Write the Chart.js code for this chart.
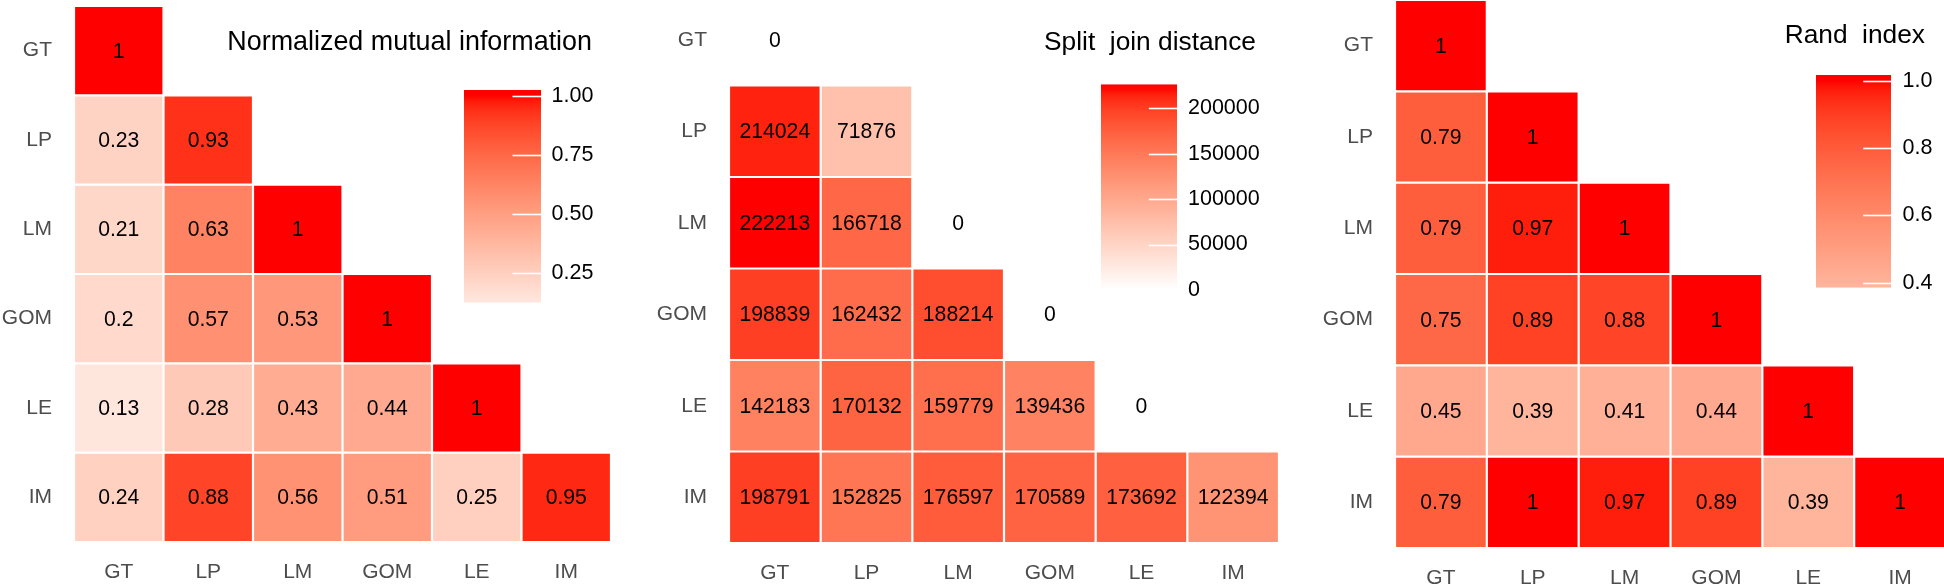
<!DOCTYPE html>
<html>
<head>
<meta charset="utf-8">
<script src="https://cdn.jsdelivr.net/npm/chart.js@4/dist/chart.umd.min.js"></script>
<style>
  html, body { margin: 0; padding: 0; background: #ffffff; }
  body { position: relative; width: 1944px; height: 587px; overflow: hidden; }
  canvas { position: absolute; }
  .title { position: absolute; font-family: 'Liberation Sans', Arial, sans-serif; font-size: 26.3px;
           line-height: 30px; color: #000; text-align: right; white-space: pre; }
</style>
</head>
<body>
<canvas id="hm1" width="611" height="587" style="left:0px;top:0px"></canvas>
<canvas id="hm2" width="639" height="593" style="left:640px;top:-6px"></canvas>
<canvas id="hm3" width="636" height="587" style="left:1310px;top:0px"></canvas>
<canvas id="cb1" width="147" height="243" style="left:464px;top:75px"></canvas>
<canvas id="cb2" width="166" height="241" style="left:1101px;top:69px"></canvas>
<canvas id="cb3" width="135" height="243" style="left:1816px;top:60px"></canvas>
<div class="title" style="left:0px;width:592px;top:26px;font-size:26.9px">Normalized mutual information</div>
<div class="title" style="left:700px;width:556px;top:26px">Split  join distance</div>
<div class="title" style="left:1500px;width:425px;top:19px">Rand  index</div>
<script>
// ---------------- data ----------------
const methods = ['GT', 'LP', 'LM', 'GOM', 'LE', 'IM'];

const nmiRows = [
  [1],
  [0.23, 0.93],
  [0.21, 0.63, 1],
  [0.2, 0.57, 0.53, 1],
  [0.13, 0.28, 0.43, 0.44, 1],
  [0.24, 0.88, 0.56, 0.51, 0.25, 0.95]
];
const splitJoinRows = [
  [0],
  [214024, 71876],
  [222213, 166718, 0],
  [198839, 162432, 188214, 0],
  [142183, 170132, 159779, 139436, 0],
  [198791, 152825, 176597, 170589, 173692, 122394]
];
const randRows = [
  [1],
  [0.79, 1],
  [0.79, 0.97, 1],
  [0.75, 0.89, 0.88, 1],
  [0.45, 0.39, 0.41, 0.44, 1],
  [0.79, 1, 0.97, 0.89, 0.39, 1]
];

const nmiTicks = [0.25, 0.5, 0.75, 1.0];
const nmiTickLabels = ['0.25', '0.50', '0.75', '1.00'];
const splitJoinTicks = [0, 50000, 100000, 150000, 200000];
const splitJoinTickLabels = ['0', '50000', '100000', '150000', '200000'];
const randTicks = [0.4, 0.6, 0.8, 1.0];
const randTickLabels = ['0.4', '0.6', '0.8', '1.0'];

// colour-bar extents
const nmiLegendRange = [0.124, 1.024];
const splitJoinLegendRange = [-5500, 226400];
const randLegendRange = [0.385, 1.018];

// ---------------- styling helpers ----------------
const FONT = "'Liberation Sans', Arial, sans-serif";
const RED_LAB = [53.2408, 80.0925, 67.2032];

function labToRgb(L, a, b) {
  const fy = (L + 16) / 116, fx = fy + a / 500, fz = fy - b / 200;
  const d = 6 / 29;
  const finv = t => t > d ? t * t * t : 3 * d * d * (t - 4 / 29);
  const X = 0.95047 * finv(fx), Y = finv(fy), Z = 1.08883 * finv(fz);
  const r = 3.2404542 * X - 1.5371385 * Y - 0.4985314 * Z;
  const g = -0.9692660 * X + 1.8760108 * Y + 0.0415560 * Z;
  const bl = 0.0556434 * X - 0.2040259 * Y + 1.0572252 * Z;
  const gam = c => {
    c = Math.max(0, Math.min(1, c));
    return Math.round(255 * (c <= 0.0031308 ? 12.92 * c : 1.055 * Math.pow(c, 1 / 2.4) - 0.055));
  };
  return 'rgb(' + gam(r) + ',' + gam(g) + ',' + gam(bl) + ')';
}
function fillFor(t) {
  if (!isFinite(t)) t = 0;
  t = Math.max(0, Math.min(1, t));
  return labToRgb(100 + (RED_LAB[0] - 100) * t, RED_LAB[1] * t, RED_LAB[2] * t);
}

function makeCellText(fmt, size) {
  return {
    id: 'cellText',
    afterDatasetsDraw(chart) {
      const ctx = chart.ctx;
      ctx.save();
      ctx.font = size + 'px ' + FONT;
      ctx.fillStyle = '#000000';
      ctx.textAlign = 'center';
      ctx.textBaseline = 'middle';
      chart.data.datasets.forEach((ds, i) => {
        const meta = chart.getDatasetMeta(i);
        meta.data.forEach((el, j) => {
          if (ds.data[j] == null) return;
          const p = el.getCenterPoint();
          ctx.fillText(fmt(ds.values[j]), p.x, p.y + 1);
        });
      });
      ctx.restore();
    }
  };
}

function heatmap(id, rows, lay) {
  const vmax = Math.max(...rows.flat());
  const datasets = rows.map((row, i) => ({
    label: methods[i],
    values: row,
    data: methods.map((_, j) => j < row.length ? [i, i + 1] : null),
    backgroundColor: c => fillFor(row[c.dataIndex] / vmax),
    borderColor: '#ffffff',
    borderWidth: 1.1,
    borderSkipped: false,
    inflateAmount: 0,
    grouped: false,
    categoryPercentage: 1,
    barPercentage: 1
  }));
  new Chart(document.getElementById(id), {
    type: 'bar',
    data: { labels: methods, datasets },
    options: {
      responsive: false,
      animation: false,
      events: [],
      layout: { padding: { top: lay.padTop, left: 0, right: 0, bottom: 0 } },
      plugins: { legend: { display: false }, tooltip: { enabled: false }, title: { display: false } },
      scales: {
        x: {
          type: 'category',
          offset: true,
          grid: { display: false, drawTicks: false },
          border: { display: false },
          ticks: { color: '#4d4d4d', font: { family: FONT, size: 21 }, padding: lay.xPad, autoSkip: false, maxRotation: 0 },
          afterFit: s => { s.height = lay.xH; s.paddingLeft = 0; s.paddingRight = 0; }
        },
        y: {
          type: 'linear',
          min: 0, max: 6,
          reverse: true,
          grid: { display: false, drawTicks: false },
          border: { display: false },
          afterBuildTicks: s => { s.ticks = methods.map((_, i) => ({ value: i + 0.5 })); },
          ticks: { color: '#4d4d4d', font: { family: FONT, size: 21 }, padding: lay.yPad, autoSkip: false,
                   callback: (v, i) => methods[i] },
          afterFit: s => { s.width = lay.yW; s.paddingTop = 0; s.paddingBottom = 0; }
        }
      }
    },
    plugins: [makeCellText(lay.fmt, 21.2)]
  });
}

function colorbar(id, rows, range, ticks, tickLabels, lay) {
  const vmax = Math.max(...rows.flat());
  const lo = range[0], hi = range[1];
  const tickMarks = {
    id: 'tickMarks',
    afterDatasetsDraw(chart) {
      const ys = chart.scales.y, a = chart.chartArea, ctx = chart.ctx;
      const len = (a.right - a.left) * 0.37;
      ctx.save();
      ctx.strokeStyle = '#ffffff';
      ctx.lineWidth = 1.6;
      ys.ticks.forEach(t => {
        const y = Math.round(ys.getPixelForValue(t.value)) + 0.5;
        ctx.beginPath();
        ctx.moveTo(a.right - len, y);
        ctx.lineTo(a.right, y);
        ctx.stroke();
      });
      ctx.restore();
    }
  };
  new Chart(document.getElementById(id), {
    type: 'bar',
    data: {
      labels: [''],
      datasets: [{
        data: [[lo, hi]],
        backgroundColor: c => {
          const chart = c.chart;
          if (!chart.chartArea || !chart.scales.y) return fillFor(1);
          const ys = chart.scales.y;
          const g = chart.ctx.createLinearGradient(0, ys.getPixelForValue(lo), 0, ys.getPixelForValue(hi));
          const N = 40;
          for (let k = 0; k <= N; k++) {
            const v = lo + (hi - lo) * k / N;
            g.addColorStop(k / N, fillFor(v / vmax));
          }
          return g;
        },
        borderWidth: 0,
        inflateAmount: 0,
        categoryPercentage: 1,
        barPercentage: 1
      }]
    },
    options: {
      responsive: false,
      animation: false,
      events: [],
      layout: { padding: { top: lay.padTop, bottom: lay.padBottom, left: 0, right: 0 } },
      plugins: { legend: { display: false }, tooltip: { enabled: false } },
      scales: {
        x: { display: false },
        y: {
          position: 'right',
          min: lo, max: hi,
          grid: { display: false, drawTicks: false },
          border: { display: false },
          afterBuildTicks: s => { s.ticks = ticks.map(v => ({ value: v })); },
          ticks: { color: '#000000', font: { family: FONT, size: 21.5 }, padding: lay.pad, autoSkip: false,
                   callback: (v, i) => tickLabels[i] },
          afterFit: s => { s.width = lay.axisW; s.paddingTop = 0; s.paddingBottom = 0; }
        }
      }
    },
    plugins: [tickMarks]
  });
}

const fmtPlain = v => String(v);

heatmap('hm1', nmiRows, { padTop: 6, xH: 45, xPad: 17.5, yW: 74, yPad: 22, fmt: fmtPlain });
heatmap('hm2', splitJoinRows, { padTop: 0, xH: 44, xPad: 17.5, yW: 89, yPad: 22, fmt: fmtPlain });
heatmap('hm3', randRows, { padTop: 0, xH: 39, xPad: 17.5, yW: 85, yPad: 22, fmt: fmtPlain });

colorbar('cb1', nmiRows, nmiLegendRange, nmiTicks, nmiTickLabels, { padTop: 15, padBottom: 15.3, axisW: 70, pad: 10.5 });
colorbar('cb2', splitJoinRows, splitJoinLegendRange, splitJoinTicks, splitJoinTickLabels, { padTop: 15.3, padBottom: 15, axisW: 90, pad: 11 });
colorbar('cb3', randRows, randLegendRange, randTicks, randTickLabels, { padTop: 15, padBottom: 15.3, axisW: 60, pad: 11.5 });
</script>
</body>
</html>
